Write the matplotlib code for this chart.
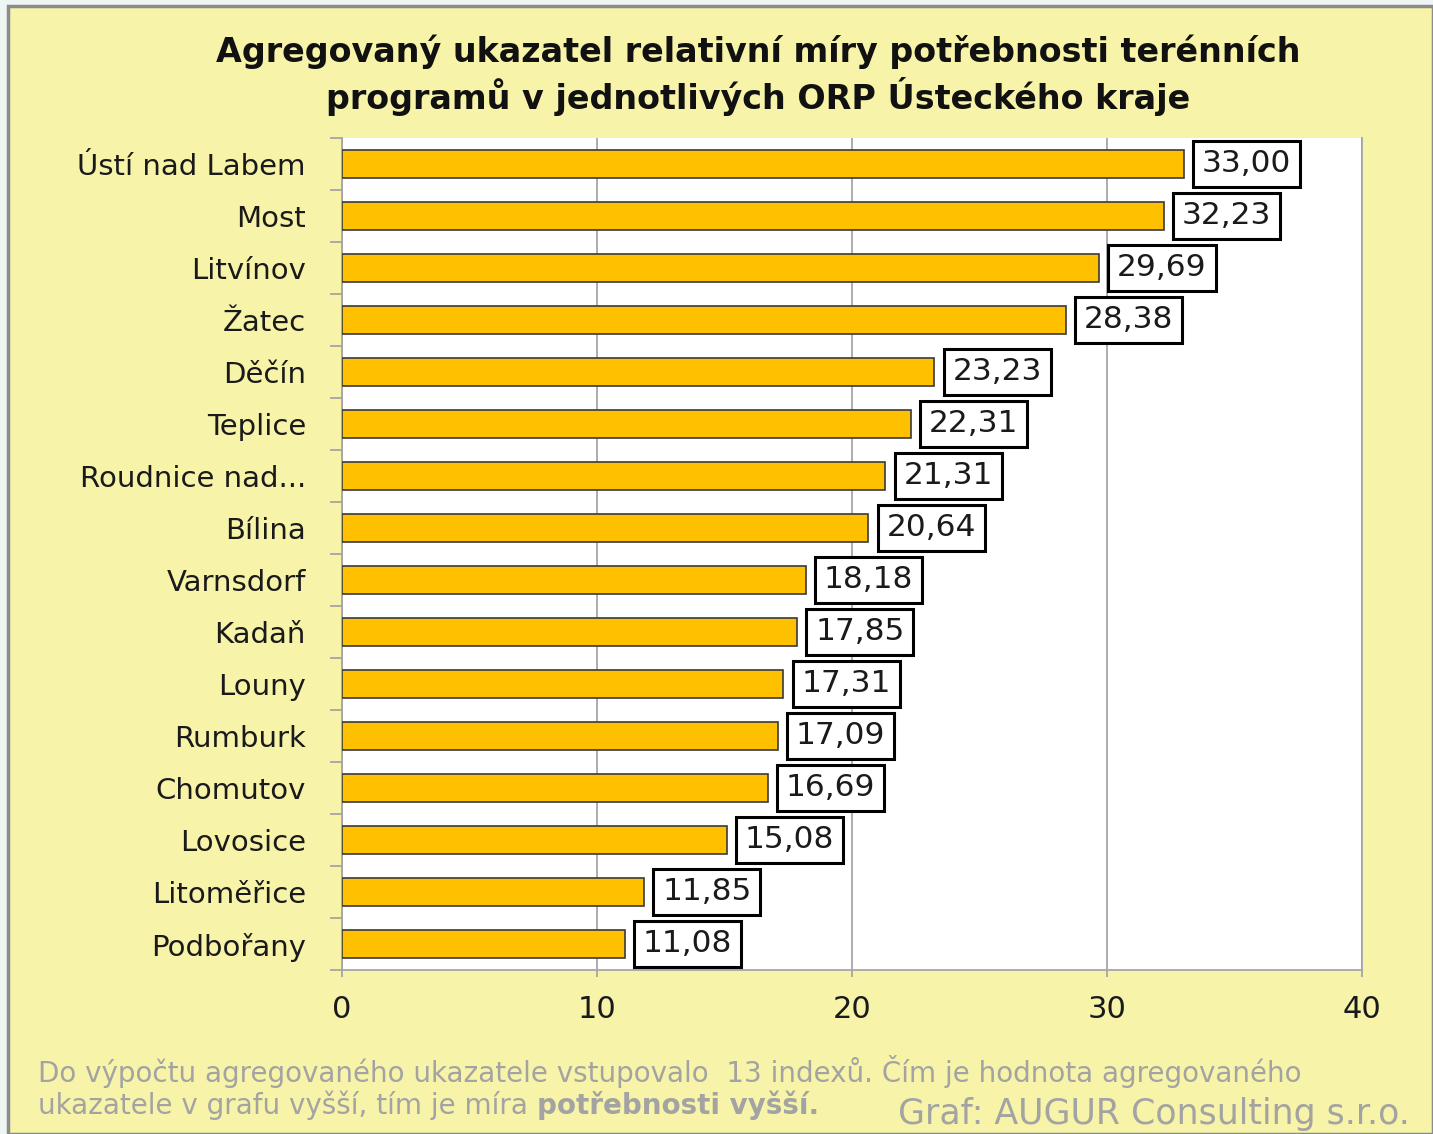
import matplotlib

matplotlib.use("Agg")
import matplotlib.pyplot as plt
import numpy as np
from matplotlib.patches import Rectangle


CATEGORIES = [
    "Ústí nad Labem", "Most", "Litvínov", "Žatec", "Děčín", "Teplice",
    "Roudnice nad...", "Bílina", "Varnsdorf", "Kadaň", "Louny", "Rumburk",
    "Chomutov", "Lovosice", "Litoměřice", "Podbořany",
]
VALUES = [
    33.00, 32.23, 29.69, 28.38, 23.23, 22.31, 21.31, 20.64,
    18.18, 17.85, 17.31, 17.09, 16.69, 15.08, 11.85, 11.08,
]
X_TICKS = [0, 10, 20, 30, 40]

TITLE = ("Agregovaný ukazatel relativní míry potřebnosti terénních\n"
         "programů v jednotlivých ORP Ústeckého kraje")
NOTE_1 = "Do výpočtu agregovaného ukazatele vstupovalo  13 indexů. Čím je hodnota agregovaného"
NOTE_2 = "ukazatele v grafu vyšší, tím je míra "
NOTE_2_BOLD = "potřebnosti vyšší."
SOURCE = "Graf: AUGUR Consulting s.r.o."

BG = "#F7F3A8"
BAR = "#FFC000"
GRID = "#A6A6A6"
NOTE_GRAY = "#A3A3A3"

W, H = 1433, 1134
fig = plt.figure(figsize=(W / 100, H / 100), dpi=100)
fig.patch.set_facecolor("#EEF5F2")
fig.patches.append(Rectangle((8 / W, 0), 1 - 8 / W, 1 - 6 / H, transform=fig.transFigure,
                             facecolor=BG, edgecolor="#8C8C8C", linewidth=2.5, zorder=-1))

ax = fig.add_axes([342 / W, 1 - 970 / H, 1020 / W, 832 / H])
ax.set_facecolor("white")

y = np.arange(len(CATEGORIES))
ax.barh(y, VALUES, height=0.55, color=BAR, edgecolor="#3A3A3A", linewidth=1.2, zorder=3)

for yi, v in zip(y, VALUES):
    ax.annotate(f"{v:.2f}".replace(".", ","), xy=(v, yi), xytext=(13, 0),
                textcoords="offset points", ha="left", va="center", fontsize=22.5,
                color="#1A1A1A",
                bbox=dict(boxstyle="square,pad=0.28", facecolor="white",
                          edgecolor="black", linewidth=2.2), zorder=4)

ax.set_xlim(0, 40)
ax.set_ylim(len(CATEGORIES) - 0.5, -0.5)
ax.set_xticks(X_TICKS)
ax.set_xticklabels([str(t) for t in X_TICKS], fontsize=22)
ax.set_yticks(y)
ax.set_yticklabels(CATEGORIES, fontsize=21)
ax.set_yticks(np.arange(len(CATEGORIES) + 1) - 0.5, minor=True)
ax.tick_params(axis="y", which="major", length=0, pad=26, colors="#1A1A1A")
ax.tick_params(axis="y", which="minor", length=9, width=1.3, color=GRID)
ax.tick_params(axis="x", length=5, width=1.3, color=GRID, pad=13, labelcolor="#1A1A1A")
ax.grid(axis="x", color=GRID, linewidth=1.3, zorder=1)
for side in ["left", "bottom", "right"]:
    ax.spines[side].set_color(GRID)
    ax.spines[side].set_linewidth(1.3)
ax.spines["top"].set_visible(False)

fig.text(758 / W, 1 - 75 / H, TITLE, ha="center", va="center", fontsize=24,
         fontweight="bold", linespacing=1.25, color="#111111")

fig.text(38 / W, 1 - 1072 / H, NOTE_1, ha="left", va="center", fontsize=20,
         color=NOTE_GRAY)
t2 = fig.text(38 / W, 1 - 1105 / H, NOTE_2, ha="left", va="center", fontsize=20,
              color=NOTE_GRAY)
fig.canvas.draw()
bb = t2.get_window_extent()
fig.text(bb.x1 / W, 1 - 1105 / H, NOTE_2_BOLD, ha="left", va="center", fontsize=20,
         fontweight="bold", color=NOTE_GRAY)
fig.text(1410 / W, 1 - 1114 / H, SOURCE, ha="right", va="center", fontsize=25,
         color=NOTE_GRAY)

fig.savefig("out.png", dpi=100, facecolor=fig.get_facecolor())
